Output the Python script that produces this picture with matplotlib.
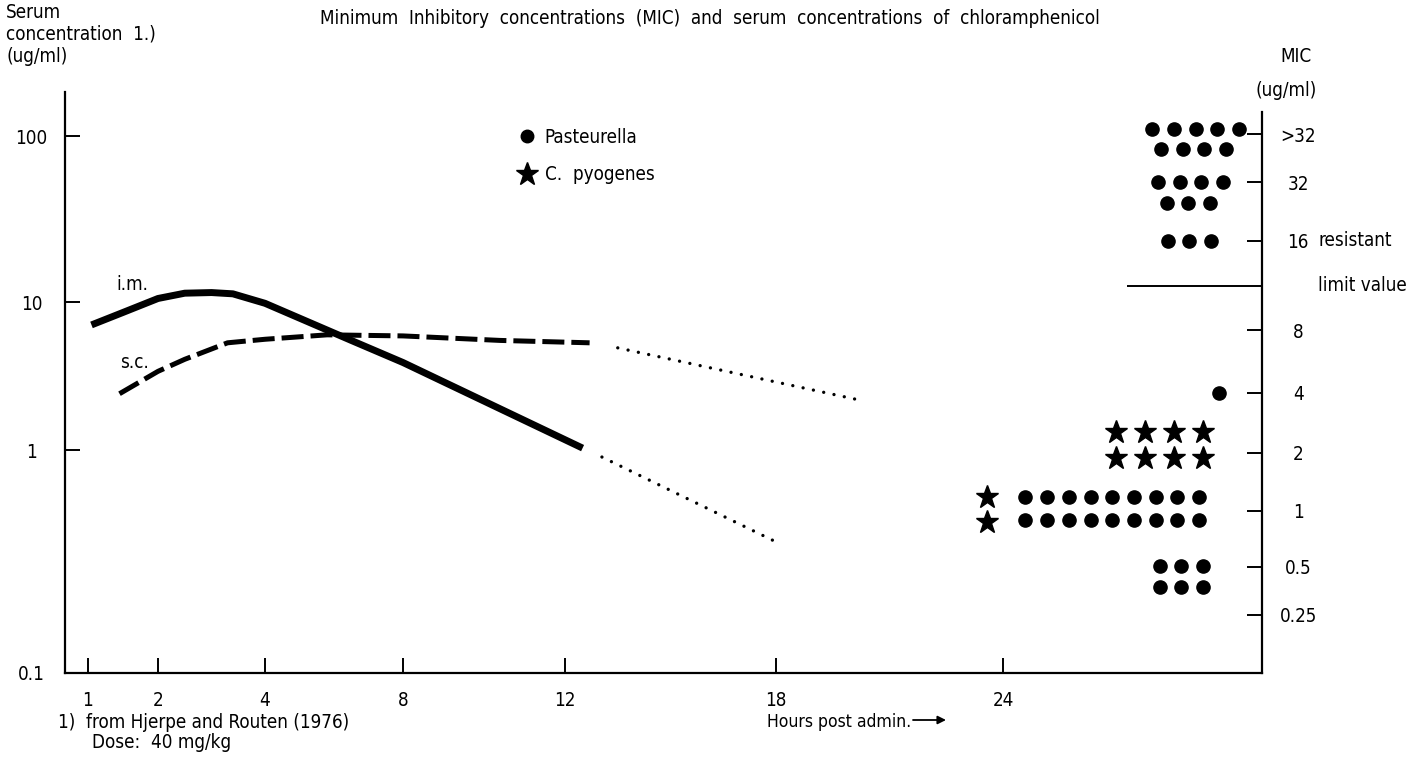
import numpy as np
import matplotlib
matplotlib.use("Agg")
import matplotlib.pyplot as plt
from matplotlib.transforms import offset_copy
from matplotlib.lines import Line2D

plt.rcParams['font.family'] = ['DejaVu Sans']
plt.rcParams['font.stretch'] = 'condensed'
plt.rcParams['font.size'] = 13.5

# serum concentration (ug/ml) vs hours post admin.
im_h = [1.05, 1.5, 2.0, 2.5, 3.0, 3.4, 4.0, 6.5, 8.0, 12.5]
im_c = [7.0, 8.5, 10.5, 11.3, 11.4, 11.2, 9.8, 5.5, 3.9, 1.03]
sc_h = [1.45, 2.0, 2.5, 3.3, 4.0, 5.8, 8.0, 10.4, 12.7]
sc_c = [2.4, 3.4, 4.1, 5.3, 5.6, 6.0, 5.9, 5.5, 5.3]
im_ext_h = [13.05, 18.1]
im_ext_c = [0.93, 0.38]
sc_ext_h = [13.5, 20.3]
sc_ext_c = [4.9, 2.15]

hour_ticks = [1, 2, 4, 8, 12, 18, 24]
conc_ticks = [0.1, 1, 10, 100]
conc_labels = ['0.1', '1', '10', '100']

# MIC distribution (number of strains per row)
mic_levels = [64, 32, 16, 8, 4, 2, 1, 0.5, 0.25]
mic_labels = ['>32', '32', '16', '8', '4', '2', '1', '0.5', '0.25']
past_row_mic = [64, 64, 32, 32, 16, 4, 1, 1, 0.5, 0.5]
past_row_n = [5, 4, 4, 3, 3, 1, 9, 9, 3, 3]
pyo_row_mic = [2, 2, 1, 1]
pyo_row_n = [4, 4, 1, 1]
limit_mic = 11.3

# layout of the dot rows (slot units from right axis, pixel shifts)
past_row_right = [-1.06, -1.66, -1.80, -2.40, -2.35, -1.98, -2.90, -2.90, -2.72, -2.72]
past_row_dy = [5, -15, 0, -21, 0, 0, 14, -9, 1, -20]
pyo_row_right = [-2.72, -2.72, -12.67, -12.67]
pyo_row_dy = [21, -5, 14, -11]
pyo_step = 1.34

# hand drawn axes -> piecewise scales
x_anchor_h = [0.67, 1, 2, 4, 8, 12, 18, 24, 30.85]
x_anchor_p = [0, 23, 93, 200, 338, 500, 711, 938, 1197]
y_anchor_log = [-1, 0, 1, 2, 2.265]
y_anchor_p = [0, 223, 371, 537, 581]
m_anchor_log = [-3.21, -2, -1, 0, 1, 2, 3, 4, 5, 6, 6.875]
m_anchor_p = [0, 58, 106, 162, 220, 280, 343, 432, 491, 539, 581]

W, H = 1426, 764
fig = plt.figure(figsize=(W / 100, H / 100), dpi=100)
rect = [65 / W, (H - 673) / H, 1197 / W, 581 / H]
ax = fig.add_axes(rect)

ax.set_xscale('function', functions=(lambda h: np.interp(h, x_anchor_h, x_anchor_p),
                                     lambda p: np.interp(p, x_anchor_p, x_anchor_h)))
ax.set_yscale('function', functions=(
    lambda c: np.interp(np.log10(np.clip(c, 1e-9, None)), y_anchor_log, y_anchor_p),
    lambda p: 10 ** np.interp(p, y_anchor_p, y_anchor_log)))
ax.set_xlim(x_anchor_h[0], x_anchor_h[-1])
ax.set_ylim(0.1, 10 ** y_anchor_log[-1])

ax.plot(im_h, im_c, color='k', lw=5, solid_capstyle='butt')
ax.plot(sc_h, sc_c, color='k', lw=3.6, ls=(0, (4.4, 1.4)), dash_capstyle='butt')
ax.plot(im_ext_h, im_ext_c, color='k', lw=2.4, ls=(0, (0.01, 3.15)), dash_capstyle='round')
ax.plot(sc_ext_h, sc_ext_c, color='k', lw=2.4, ls=(0, (0.01, 3.15)), dash_capstyle='round')
ax.text(1.64, 12.8, 'i.m.', ha='center', va='center')
ax.text(1.67, 3.93, 's.c.', ha='center', va='center')

for s in ['top', 'right']:
    ax.spines[s].set_visible(False)
for s in ['left', 'bottom']:
    ax.spines[s].set_linewidth(1.6)
ax.set_xticks(hour_ticks, [str(h) for h in hour_ticks])
ax.set_yticks(conc_ticks, conc_labels)
ax.minorticks_off()
ax.tick_params(axis='x', direction='in', length=11, width=1.4, pad=13)
ax.tick_params(axis='y', direction='in', length=11, width=1.4, pad=24)
for lbl in ax.get_yticklabels():
    lbl.set_ha('center')

handles = [Line2D([], [], marker='o', ls='', color='k', ms=9),
           Line2D([], [], marker='*', ls='', color='k', ms=17)]
ax.legend(handles, ['Pasteurella', 'C.  pyogenes'], loc='upper left',
          bbox_to_anchor=(519.5 / W, 1 - 128 / H), bbox_transform=fig.transFigure,
          frameon=False, handlelength=0.8, handletextpad=0.55, labelspacing=0.98,
          borderpad=0, borderaxespad=0)

# MIC axis
ax2 = fig.add_axes(rect)
ax2.patch.set_visible(False)
ax2.set_yscale('function', functions=(
    lambda v: np.interp(np.log2(np.clip(v, 1e-9, None)), m_anchor_log, m_anchor_p),
    lambda p: 2 ** np.interp(p, m_anchor_p, m_anchor_log)))
ax2.set_ylim(2 ** m_anchor_log[0], 2 ** m_anchor_log[-1])
ax2.set_xlim(-1197 / 21.7, 0)
for s in ['top', 'left', 'bottom']:
    ax2.spines[s].set_visible(False)
ax2.spines['right'].set_linewidth(1.6)
ax2.spines['right'].set_bounds(2 ** m_anchor_log[0], 88)
ax2.set_xticks([])
ax2.yaxis.tick_right()
ax2.set_yticks(mic_levels, mic_labels)
ax2.minorticks_off()
ax2.tick_params(axis='y', direction='in', length=11, width=1.4, pad=26)
for lbl in ax2.get_yticklabels():
    lbl.set_ha('center')

for m, n, r, dy in zip(past_row_mic, past_row_n, past_row_right, past_row_dy):
    xs = r - np.arange(n)
    tr = offset_copy(ax2.transData, fig=fig, y=dy, units='dots')
    ax2.plot(xs, [m] * n, 'o', color='k', ms=9.5, transform=tr, clip_on=False)
for m, n, r, dy in zip(pyo_row_mic, pyo_row_n, pyo_row_right, pyo_row_dy):
    xs = r - pyo_step * np.arange(n)
    tr = offset_copy(ax2.transData, fig=fig, y=dy, units='dots')
    ax2.plot(xs, [m] * n, '*', color='k', ms=17, transform=tr, clip_on=False)

ax2.hlines(limit_mic, -6.2, 0, color='k', lw=1.4)
ytr = ax2.get_yaxis_transform()
ax2.text(1 + 56 / 1197, 16, 'resistant', transform=ytr, va='center', ha='left')
ax2.text(1 + 56 / 1197, limit_mic, 'limit value', transform=ytr, va='center', ha='left')

# texts around the frame
fig.text(710 / W, 1 - 19 / H,
         'Minimum  Inhibitory  concentrations  (MIC)  and  serum  concentrations  of  chloramphenicol',
         ha='center', va='center')
fig.text(6 / W, 1 - 12 / H, 'Serum', va='center')
fig.text(6 / W, 1 - 34 / H, 'concentration  1.)', va='center')
fig.text(6 / W, 1 - 56 / H, '(ug/ml)', va='center')
fig.text(1296 / W, 1 - 56 / H, 'MIC', ha='center', va='center')
fig.text(1286 / W, 1 - 90 / H, '(ug/ml)', ha='center', va='center')
fig.text(58 / W, 1 - 722 / H, '1)  from Hjerpe and Routen (1976)', va='center')
fig.text(92 / W, 1 - 743 / H, 'Dose:  40 mg/kg', va='center')
fig.text(767 / W, 1 - 722 / H, 'Hours post admin.', va='center', fontsize=12.6)
fig.add_artist(matplotlib.patches.FancyArrowPatch(
    (913 / W, 1 - 720 / H), (946 / W, 1 - 720 / H), transform=fig.transFigure,
    arrowstyle='-|>', mutation_scale=12, color='k', lw=1.3, shrinkA=0, shrinkB=0))

fig.savefig('out.png', dpi=100)
